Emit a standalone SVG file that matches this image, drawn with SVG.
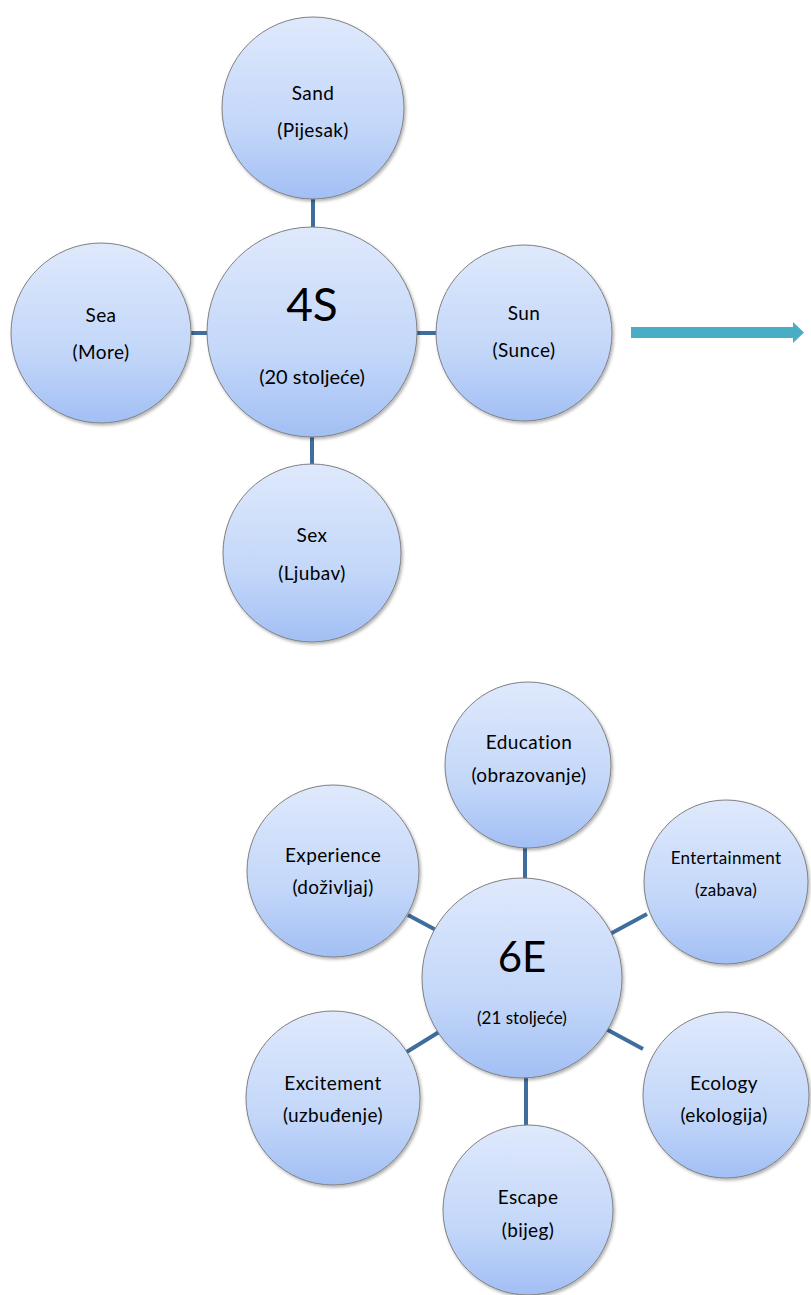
<svg xmlns="http://www.w3.org/2000/svg" width="811" height="1295" viewBox="0 0 811 1295">
<defs>
<linearGradient id="g" x1="0" y1="0" x2="0" y2="1">
<stop offset="0" stop-color="#dfe9fc"/>
<stop offset="0.6" stop-color="#c3d7f9"/>
<stop offset="1" stop-color="#a2bff4"/>
</linearGradient>
<filter id="sh" x="-10%" y="-10%" width="125%" height="125%">
<feDropShadow dx="1.5" dy="2" stdDeviation="1.5" flood-color="#000" flood-opacity="0.3"/>
</filter>
<style>
.n{fill:url(#g);stroke:#808080;stroke-width:1;filter:url(#sh)}
.c line{stroke:#3f6d9e;stroke-width:4}
text{font-family:Lato,"Open Sans","Liberation Sans",sans-serif;fill:#000;text-anchor:middle}
.t{font-size:19px;letter-spacing:0.4px}
.s{font-size:17px;letter-spacing:0.3px}
</style>
</defs>
<rect width="811" height="1295" fill="#fff"/>
<g id="connectors" class="c">
<line x1="313" y1="198" x2="313" y2="229"/>
<line x1="189" y1="333" x2="210" y2="333"/>
<line x1="415" y1="333" x2="439" y2="333"/>
<line x1="312" y1="436" x2="312" y2="465"/>
<line x1="525" y1="844" x2="525" y2="882"/>
<line x1="408" y1="915" x2="436" y2="930"/>
<line x1="610" y1="934" x2="647" y2="914"/>
<line x1="606" y1="1029" x2="643" y2="1049"/>
<line x1="405" y1="1053" x2="439" y2="1032"/>
<line x1="526" y1="1076" x2="526" y2="1127"/>
</g>
<g id="arrow">
<polygon points="631,327 793,327 793,322 804,332.5 793,343 793,338 631,338" fill="#4bacc6"/>
</g>
<g id="sand"><circle class="n" cx="313" cy="108" r="91"/><text class="t" x="313" y="100">Sand</text><text class="t" x="313" y="137">(Pijesak)</text></g>
<g id="sea"><circle class="n" cx="101" cy="333" r="90"/><text class="t" x="101" y="322">Sea</text><text class="t" x="101" y="359">(More)</text></g>
<g id="center4s"><circle class="n" cx="312" cy="332" r="105"/><text x="312" y="321" style="font-size:46px">4S</text><text x="312" y="384" style="font-size:20px">(20 stoljeće)</text></g>
<g id="sun"><circle class="n" cx="524" cy="333" r="88"/><text class="t" x="524" y="320">Sun</text><text class="t" x="524" y="357">(Sunce)</text></g>
<g id="sex"><circle class="n" cx="312" cy="553" r="89"/><text class="t" x="312" y="542">Sex</text><text class="t" x="312" y="580">(Ljubav)</text></g>
<g id="education"><circle class="n" cx="528" cy="765" r="83"/><text class="t" x="529" y="749">Education</text><text class="t" x="529" y="782">(obrazovanje)</text></g>
<g id="experience"><circle class="n" cx="333" cy="871" r="86"/><text class="t" x="333" y="862">Experience</text><text class="t" x="333" y="894">(doživljaj)</text></g>
<g id="entertainment"><circle class="n" cx="726" cy="882" r="82"/><text class="s" x="726" y="864">Entertainment</text><text class="s" x="726" y="896">(zabava)</text></g>
<g id="center6e"><circle class="n" cx="522" cy="978" r="100"/><text x="522" y="972" style="font-size:42px">6E</text><text x="522" y="1024" style="font-size:17px">(21 stoljeće)</text></g>
<g id="ecology"><circle class="n" cx="726" cy="1095" r="83"/><text class="t" x="724" y="1090">Ecology</text><text class="t" x="724" y="1122">(ekologija)</text></g>
<g id="excitement"><circle class="n" cx="333" cy="1098" r="87"/><text class="t" x="333" y="1090">Excitement</text><text class="t" x="333" y="1122">(uzbuđenje)</text></g>
<g id="escape"><circle class="n" cx="528" cy="1210" r="85"/><text class="t" x="528" y="1204">Escape</text><text class="t" x="528" y="1237">(bijeg)</text></g>
</svg>
